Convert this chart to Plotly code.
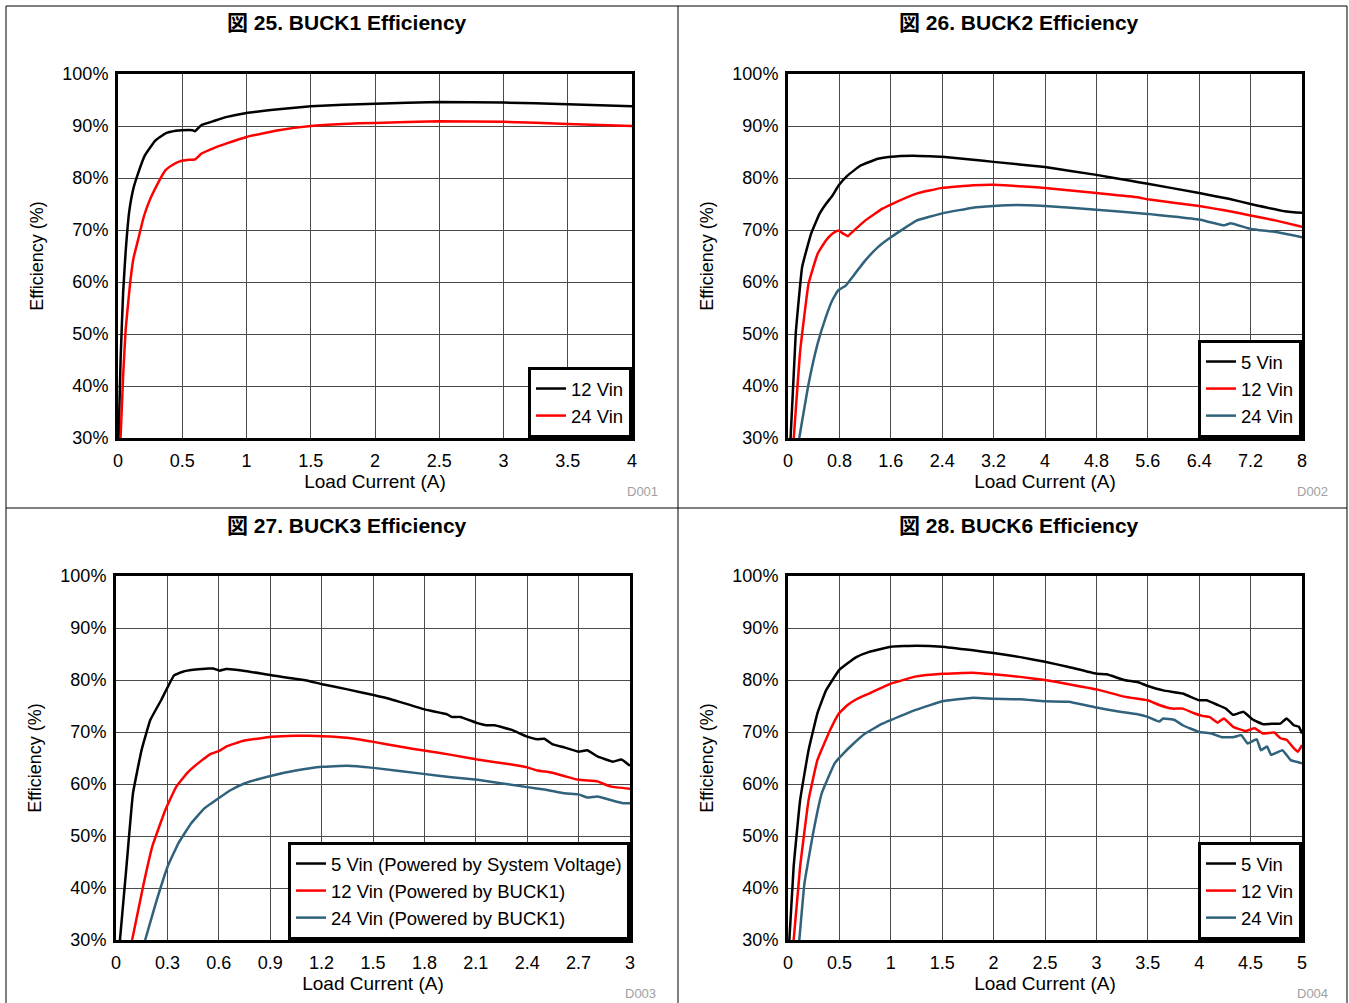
import plotly.graph_objects as go

# ---------------- data ----------------
# BUCK1
buck1_x_12v = [0.005, 0.02, 0.04, 0.06, 0.087, 0.12, 0.155, 0.21, 0.29, 0.37, 0.45, 0.5, 0.58, 0.6, 0.65,
               0.75, 0.84, 1.0, 1.25, 1.5, 1.75, 2.0, 2.5, 3.0, 3.5, 4.0]
buck1_y_12v = [30, 45, 58, 66, 73.5, 78, 80.8, 84.4, 87.2, 88.6, 89.1, 89.2, 89.2, 89.0, 90.2,
               91.0, 91.7, 92.5, 93.2, 93.8, 94.1, 94.3, 94.6, 94.5, 94.2, 93.8]
buck1_x_24v = [0.02, 0.04, 0.06, 0.094, 0.12, 0.155, 0.2, 0.246, 0.3, 0.37, 0.43, 0.48, 0.55, 0.6, 0.65,
               0.75, 0.84, 1.0, 1.25, 1.5, 1.75, 2.0, 2.5, 3.0, 3.5, 4.0]
buck1_y_24v = [30, 42, 51, 59.7, 64.5, 68, 72.5, 75.7, 78.5, 81.5, 82.6, 83.2, 83.5, 83.6, 84.7,
               85.8, 86.6, 87.9, 89.2, 90.0, 90.4, 90.6, 90.9, 90.8, 90.4, 90.0]

# BUCK2
buck2_x_5v = [0.04, 0.12, 0.22, 0.36, 0.49, 0.59, 0.69, 0.79, 0.93, 1.13, 1.4, 1.6, 1.94, 2.21, 2.4,
              2.88, 3.2, 4.0, 4.8, 5.31, 5.6, 6.4, 6.86, 7.2, 7.73, 7.87, 8.0]
buck2_y_5v = [30, 50, 62.9, 69.3, 73.1, 75.0, 76.6, 78.6, 80.5, 82.4, 83.7, 84.1, 84.3, 84.2, 84.1,
              83.5, 83.1, 82.1, 80.6, 79.5, 78.9, 77.1, 76.0, 75.0, 73.6, 73.4, 73.3]
buck2_x_12v = [0.09, 0.19, 0.32, 0.46, 0.59, 0.69, 0.78, 0.86, 0.93, 1.0, 1.2, 1.47, 1.6, 2.0, 2.4,
               2.88, 3.2, 4.0, 4.8, 5.44, 5.6, 6.4, 6.79, 7.2, 7.6, 8.0]
buck2_y_12v = [30, 46.8, 59.7, 65.4, 68.0, 69.3, 69.9, 69.3, 68.8, 69.6, 71.8, 74.1, 74.9, 77.0, 78.1,
               78.6, 78.7, 78.1, 77.1, 76.3, 75.9, 74.6, 73.8, 72.8, 71.8, 70.6]
buck2_x_24v = [0.175, 0.32, 0.46, 0.59, 0.69, 0.78, 0.9, 1.0, 1.2, 1.4, 1.6, 2.0, 2.4, 2.88, 3.2, 3.56,
               4.0, 4.8, 5.6, 5.98, 6.4, 6.79, 6.89, 7.2, 7.6, 8.0]
buck2_y_24v = [30, 40.4, 48.1, 53.3, 56.5, 58.4, 59.3, 60.9, 64.1, 66.7, 68.6, 71.8, 73.2, 74.3, 74.6, 74.8,
               74.6, 73.9, 73.1, 72.6, 72.0, 70.9, 71.3, 70.2, 69.6, 68.6]

# BUCK3
buck3_x_5v = [0.023, 0.061, 0.099, 0.149, 0.2, 0.263, 0.339, 0.39, 0.465, 0.541, 0.567, 0.605, 0.643,
              0.744, 0.908, 1.098, 1.204, 1.351, 1.503, 1.604, 1.806, 1.933, 1.958, 2.01, 2.11, 2.16,
              2.21, 2.31, 2.4, 2.46, 2.5, 2.55, 2.62, 2.7, 2.75, 2.81, 2.9, 2.95, 3.0]
buck3_y_5v = [30, 44.1, 58.2, 66.5, 72.3, 76.1, 80.9, 81.6, 82.0, 82.2, 82.2, 81.8, 82.1,
              81.8, 80.9, 80.0, 79.2, 78.2, 77.1, 76.3, 74.3, 73.4, 72.9, 72.9, 71.7, 71.3,
              71.3, 70.4, 69.1, 68.6, 68.7, 67.6, 67.0, 66.2, 66.5, 65.3, 64.3, 64.7, 63.5]
buck3_x_12v = [0.094, 0.162, 0.212, 0.288, 0.352, 0.415, 0.491, 0.554, 0.605, 0.643, 0.744, 0.908,
               1.047, 1.204, 1.351, 1.503, 1.654, 1.806, 1.958, 2.11, 2.3, 2.4, 2.46, 2.54, 2.62,
               2.7, 2.81, 2.84, 2.89, 3.0]
buck3_y_12v = [30, 40.9, 48.0, 55.0, 59.5, 62.1, 64.3, 65.8, 66.4, 67.2, 68.3, 69.1,
               69.3, 69.2, 68.9, 68.1, 67.2, 66.4, 65.6, 64.7, 63.8, 63.2, 62.6, 62.2, 61.5,
               60.8, 60.5, 60.1, 59.5, 59.1]
buck3_x_24v = [0.17, 0.238, 0.301, 0.364, 0.44, 0.516, 0.605, 0.668, 0.756, 0.908, 1.05, 1.204, 1.351,
               1.503, 1.806, 1.958, 2.11, 2.4, 2.51, 2.62, 2.7, 2.75, 2.81, 2.89, 2.96, 3.0]
buck3_y_24v = [30, 37.7, 44.1, 48.6, 52.5, 55.3, 57.4, 58.8, 60.2, 61.6, 62.6, 63.3, 63.5,
               63.1, 61.9, 61.3, 60.8, 59.4, 58.9, 58.2, 58.0, 57.4, 57.6, 56.9, 56.3, 56.3]

# BUCK6
buck6_x_5v = [0.013, 0.055, 0.118, 0.2, 0.286, 0.37, 0.497, 0.58, 0.665, 0.79, 1.0, 1.25, 1.5, 1.8,
              2.0, 2.26, 2.5, 2.73, 3.0, 3.1, 3.27, 3.4, 3.48, 3.65, 3.84, 4.0, 4.07, 4.18, 4.26,
              4.33, 4.43, 4.52, 4.62, 4.73, 4.79, 4.85, 4.92, 4.97, 5.0]
buck6_y_5v = [30, 44.1, 56.9, 66.5, 73.6, 78.0, 81.9, 83.2, 84.4, 85.4, 86.4, 86.6, 86.4, 85.7,
              85.2, 84.4, 83.5, 82.5, 81.2, 81.1, 80.0, 79.6, 79.0, 78.0, 77.4, 76.1, 76.1, 75.2, 74.5,
              73.3, 73.9, 72.4, 71.5, 71.6, 71.6, 72.6, 71.3, 71.0, 69.7]
buck6_x_12v = [0.055, 0.118, 0.2, 0.286, 0.41, 0.497, 0.58, 0.665, 0.79, 1.0, 1.25, 1.5, 1.8, 2.0,
               2.26, 2.5, 2.73, 3.0, 3.27, 3.4, 3.5, 3.61, 3.74, 3.84, 3.95, 4.03, 4.1, 4.18, 4.24,
               4.33, 4.45, 4.54, 4.62, 4.73, 4.79, 4.85, 4.92, 4.96, 5.0]
buck6_y_12v = [30, 44.1, 56.9, 64.6, 70.4, 73.6, 75.2, 76.3, 77.4, 79.3, 80.7, 81.2, 81.4, 81.1,
               80.6, 80.0, 79.2, 78.2, 76.8, 76.4, 76.1, 75.2, 74.5, 74.5, 73.6, 73.1, 72.9, 71.8, 72.6,
               71.0, 70.2, 70.7, 69.7, 69.9, 68.8, 68.5, 66.9, 66.2, 67.5]
buck6_x_24v = [0.11, 0.16, 0.244, 0.328, 0.455, 0.54, 0.623, 0.75, 0.917, 1.0, 1.25, 1.5, 1.8, 2.0,
               2.26, 2.5, 2.73, 3.0, 3.23, 3.4, 3.5, 3.61, 3.65, 3.76, 3.84, 4.0, 4.12, 4.22, 4.33,
               4.41, 4.47, 4.56, 4.6, 4.66, 4.7, 4.81, 4.89, 5.0]
buck6_y_24v = [30, 40.9, 50.5, 58.2, 64.0, 65.9, 67.5, 69.7, 71.6, 72.3, 74.3, 75.9, 76.6, 76.4,
               76.3, 75.9, 75.8, 74.7, 73.9, 73.4, 72.9, 72.0, 72.6, 72.3, 71.3, 70.0, 69.7, 69.0, 69.0,
               69.4, 67.8, 68.6, 66.5, 67.2, 65.6, 66.5, 64.6, 64.0]

# tick labels
y_ticks = [30, 40, 50, 60, 70, 80, 90, 100]
y_labels = ["30%", "40%", "50%", "60%", "70%", "80%", "90%", "100%"]
buck1_xticks = [0, 0.5, 1, 1.5, 2, 2.5, 3, 3.5, 4]
buck1_xlabels = ["0", "0.5", "1", "1.5", "2", "2.5", "3", "3.5", "4"]
buck2_xticks = [0, 0.8, 1.6, 2.4, 3.2, 4, 4.8, 5.6, 6.4, 7.2, 8]
buck2_xlabels = ["0", "0.8", "1.6", "2.4", "3.2", "4", "4.8", "5.6", "6.4", "7.2", "8"]
buck3_xticks = [0, 0.3, 0.6, 0.9, 1.2, 1.5, 1.8, 2.1, 2.4, 2.7, 3]
buck3_xlabels = ["0", "0.3", "0.6", "0.9", "1.2", "1.5", "1.8", "2.1", "2.4", "2.7", "3"]
buck6_xticks = [0, 0.5, 1, 1.5, 2, 2.5, 3, 3.5, 4, 4.5, 5]
buck6_xlabels = ["0", "0.5", "1", "1.5", "2", "2.5", "3", "3.5", "4", "4.5", "5"]

titles = ["図 25. BUCK1 Efficiency", "図 26. BUCK2 Efficiency",
          "図 27. BUCK3 Efficiency", "図 28. BUCK6 Efficiency"]
codes = ["D001", "D002", "D003", "D004"]

# ---------------- layout ----------------
W, H = 1349, 1003
FONT = "Liberation Sans, Arial, Noto Sans CJK JP, sans-serif"
BLACK, RED, BLUE = "#000000", "#ff0000", "#31627c"


def px(x):
    return x / W


def py(y):
    return 1 - y / H


# plot areas in pixels: (left, right, top, bottom)
areas = [(118, 632, 74, 438), (788, 1302, 74, 438), (116, 630, 576, 940), (788, 1302, 576, 940)]

panels = [
    ([("12 Vin", buck1_x_12v, buck1_y_12v, BLACK), ("24 Vin", buck1_x_24v, buck1_y_24v, RED)],
     buck1_xticks, buck1_xlabels, [0, 4]),
    ([("5 Vin", buck2_x_5v, buck2_y_5v, BLACK), ("12 Vin", buck2_x_12v, buck2_y_12v, RED),
      ("24 Vin", buck2_x_24v, buck2_y_24v, BLUE)],
     buck2_xticks, buck2_xlabels, [0, 8]),
    ([("5 Vin (Powered by System Voltage)", buck3_x_5v, buck3_y_5v, BLACK),
      ("12 Vin (Powered by BUCK1)", buck3_x_12v, buck3_y_12v, RED),
      ("24 Vin (Powered by BUCK1)", buck3_x_24v, buck3_y_24v, BLUE)],
     buck3_xticks, buck3_xlabels, [0, 3]),
    ([("5 Vin", buck6_x_5v, buck6_y_5v, BLACK), ("12 Vin", buck6_x_12v, buck6_y_12v, RED),
      ("24 Vin", buck6_x_24v, buck6_y_24v, BLUE)],
     buck6_xticks, buck6_xlabels, [0, 5]),
]

fig = go.Figure()
layout = dict(
    width=W, height=H,
    margin=dict(l=0, r=0, t=0, b=0, autoexpand=False),
    paper_bgcolor="white", plot_bgcolor="white",
    font=dict(family=FONT, size=18, color="black"),
    annotations=[], shapes=[],
)

for i, (series, xt, xl, xr) in enumerate(panels):
    n = "" if i == 0 else str(i + 1)
    leg = "legend" + n
    l, r, t, b = areas[i]
    for name, xs, ys, col in series:
        fig.add_trace(go.Scatter(
            x=xs, y=ys, name=name, mode="lines",
            line=dict(color=col, width=2.5, shape="spline", smoothing=0.3),
            xaxis="x" + n, yaxis="y" + n, legend=leg,
        ))
    layout["xaxis" + n] = dict(
        domain=[px(l), px(r)], range=xr, anchor="y" + n, automargin=False,
        tickvals=xt, ticktext=xl, ticks="", ticklabelstandoff=4,
        showgrid=True, gridcolor="#4a4a4a", gridwidth=1, zeroline=False,
        showline=True, linecolor="black", linewidth=3, mirror=True,
        title=dict(text="Load Current (A)", standoff=4, font=dict(size=19)),
        tickfont=dict(size=18),
    )
    layout["yaxis" + n] = dict(
        domain=[py(b), py(t)], range=[30, 100], anchor="x" + n, automargin=False,
        tickvals=y_ticks, ticktext=y_labels, ticks="", ticklabelstandoff=3,
        showgrid=True, gridcolor="#4a4a4a", gridwidth=1, zeroline=False,
        showline=True, linecolor="black", linewidth=3, mirror=True,
        title=dict(text="Efficiency (%)", standoff=15, font=dict(size=18)),
        tickfont=dict(size=18),
    )
    layout[leg] = dict(
        x=px(r), y=py(b), xanchor="right", yanchor="bottom",
        bgcolor="white", bordercolor="black", borderwidth=3,
        font=dict(size=18.5), itemwidth=30, tracegroupgap=0,
    )
    # panel title and figure code
    cx = 347 if i % 2 == 0 else 1019
    ty = 22 if i < 2 else 525
    layout["annotations"].append(dict(
        text=titles[i], x=px(cx), y=py(ty), xref="paper", yref="paper",
        showarrow=False, xanchor="center", yanchor="middle",
        font=dict(size=21, weight="bold", family=FONT)))
    layout["annotations"].append(dict(
        text=codes[i], x=px(r + 28), y=py(b + 53), xref="paper", yref="paper",
        showarrow=False, xanchor="right", yanchor="middle",
        font=dict(size=13, color="#a0a0a0")))

# cell frame lines
frame = [(6, 6, 1347, 6), (6, 508, 1347, 508), (6, 6, 6, 1003), (678, 6, 678, 1003), (1347, 6, 1347, 1003)]
for x0, y0, x1, y1 in frame:
    layout["shapes"].append(dict(type="line", xref="paper", yref="paper",
                                 x0=px(x0), y0=py(y0), x1=px(x1), y1=py(y1),
                                 line=dict(color="black", width=1)))

fig.update_layout(**layout)
fig.write_html("out.html")
